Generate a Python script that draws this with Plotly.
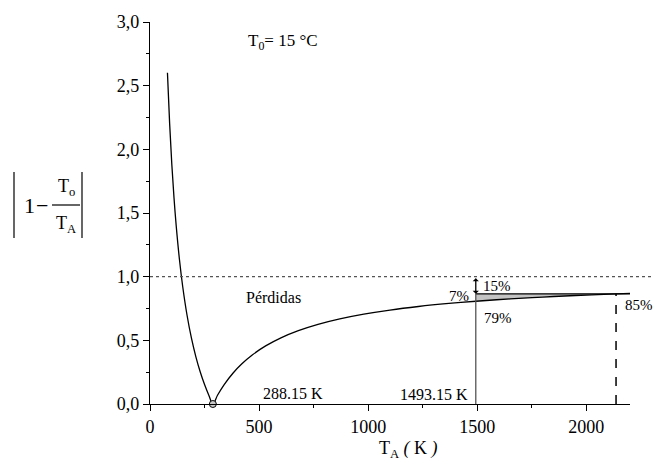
import plotly.graph_objects as go

# ---- data ----
T0 = 288.15
TA = [80, 90, 100, 110, 120, 135, 150, 170, 190, 210, 230, 250, 270, 288.15,
      310, 340, 380, 420, 470, 530, 600, 680, 770, 870, 980, 1100, 1230,
      1370, 1493.15, 1650, 1800, 1950, 2136, 2200]
T_mark = 1493.15
T_max = 2136
x_ticks = [0, 500, 1000, 1500, 2000]
x_ticklabels = ["0", "500", "1000", "1500", "2000"]
y_ticks = [0, 0.5, 1.0, 1.5, 2.0, 2.5, 3.0]
y_ticklabels = ["0,0", "0,5", "1,0", "1,5", "2,0", "2,5", "3,0"]

eff = [abs(1 - T0 / t) for t in TA]
y_top = abs(1 - T0 / T_max)

FONT = "Times New Roman"
W, H = 653, 467
L, R, T, B = 150, 23, 22, 63
pw, ph = W - L - R, H - T - B


def px(x):
    return (x - L) / pw


def py(y):
    return (H - B - y) / ph


fig = go.Figure()

# gray wedge between curve and horizontal level
seg = [t for t in TA if T_mark <= t <= T_max]
fx = seg + [T_max, T_mark]
fy = [abs(1 - T0 / t) for t in seg] + [y_top, y_top]
fig.add_trace(go.Scatter(x=fx, y=fy, fill="toself", fillcolor="#c4c4c4",
                         line=dict(width=0), mode="lines", hoverinfo="skip"))

# main curve
fig.add_trace(go.Scatter(x=TA, y=eff, mode="lines", line=dict(color="black", width=1.3),
                         line_shape="spline", hoverinfo="skip"))

# horizontal level line
fig.add_trace(go.Scatter(x=[T_mark, 2200], y=[y_top, y_top], mode="lines",
                         line=dict(color="black", width=1.3), hoverinfo="skip"))
# vertical at 1493.15
fig.add_trace(go.Scatter(x=[T_mark, T_mark], y=[0, y_top], mode="lines",
                         line=dict(color="#555555", width=1.3), hoverinfo="skip"))
# dashed vertical at max
fig.add_trace(go.Scatter(x=[T_max, T_max], y=[0, y_top], mode="lines",
                         line=dict(color="black", width=1.5, dash="dash"), hoverinfo="skip"))

# circle marker at T0
fig.add_trace(go.Scatter(x=[T0], y=[0], mode="markers", cliponaxis=False,
                         marker=dict(size=7, color="#c8c8c8", line=dict(color="black", width=1)),
                         hoverinfo="skip"))

shapes = [
    dict(type="line", xref="paper", yref="y", x0=0, x1=px(652), y0=1, y1=1,
         line=dict(color="#555555", width=1.2, dash="dot")),
    dict(type="line", xref="paper", yref="paper", x0=px(14), x1=px(14), y0=py(172), y1=py(238),
         line=dict(color="black", width=1.2)),
    dict(type="line", xref="paper", yref="paper", x0=px(82), x1=px(82), y0=py(172), y1=py(238),
         line=dict(color="black", width=1.2)),
    dict(type="line", xref="paper", yref="paper", x0=px(52), x1=px(80), y0=py(205), y1=py(205),
         line=dict(color="black", width=1.2)),
]

ann = []


def txt(text, x, y, size=15, xanchor="left", yanchor="middle"):
    ann.append(dict(text=text, x=px(x), y=py(y), xref="paper", yref="paper",
                    showarrow=False, xanchor=xanchor, yanchor=yanchor,
                    font=dict(family=FONT, size=size, color="black")))


txt("T<sub>0</sub>= 15 °C", 246, 42, 17)
txt("Pérdidas", 244, 297, 16)
txt("288.15 K", 261, 393, 16)
txt("1493.15 K", 470, 394, 16, xanchor="right")
txt("15%", 481, 286, 15)
txt("7%", 471, 296, 15, xanchor="right")
txt("79%", 482, 318, 15)
txt("85%", 623, 305, 15)
# y title
txt("1", 29, 205, 22, xanchor="center")
txt("−", 42, 205, 22, xanchor="center")
txt("T<sub>o</sub>", 66, 187, 18, xanchor="center")
txt("T<sub>A</sub>", 66, 225, 18, xanchor="center")
# x title
txt("T<sub>A</sub> <i>(</i> K <i>)</i>", 408, 449, 18, xanchor="center")

# double arrow
ann.append(dict(x=T_mark, y=y_top, ax=T_mark, ay=1.0, xref="x", yref="y",
                axref="x", ayref="y", showarrow=True, text="",
                arrowhead=1, startarrowhead=1, arrowside="end+start",
                arrowsize=0.8, arrowwidth=1.3, arrowcolor="black",
                standoff=0, startstandoff=0))

fig.update_layout(
    width=W, height=H, margin=dict(l=L, r=R, t=T, b=B),
    paper_bgcolor="white", plot_bgcolor="white", showlegend=False,
    font=dict(family=FONT, size=18, color="black"),
    shapes=shapes, annotations=ann,
    xaxis=dict(range=[0, 2200], tickmode="array", tickvals=x_ticks, ticktext=x_ticklabels,
               showline=True, linecolor="black", linewidth=1.3, ticks="outside", ticklen=6,
               tickwidth=1.2, tickcolor="black", showgrid=False, zeroline=False,
               minor=dict(ticks="outside", ticklen=3, tickwidth=1, tickcolor="black",
                          tickmode="linear", tick0=0, dtick=250),
               tickfont=dict(family=FONT, size=18)),
    yaxis=dict(range=[0, 3], tickmode="array", tickvals=y_ticks, ticktext=y_ticklabels,
               showline=True, linecolor="black", linewidth=1.3, ticks="outside", ticklen=6,
               tickwidth=1.2, tickcolor="black", showgrid=False, zeroline=False,
               minor=dict(ticks="outside", ticklen=3, tickwidth=1, tickcolor="black",
                          tickmode="linear", tick0=0, dtick=0.25),
               tickfont=dict(family=FONT, size=18)),
)

fig.write_html("out.html")
